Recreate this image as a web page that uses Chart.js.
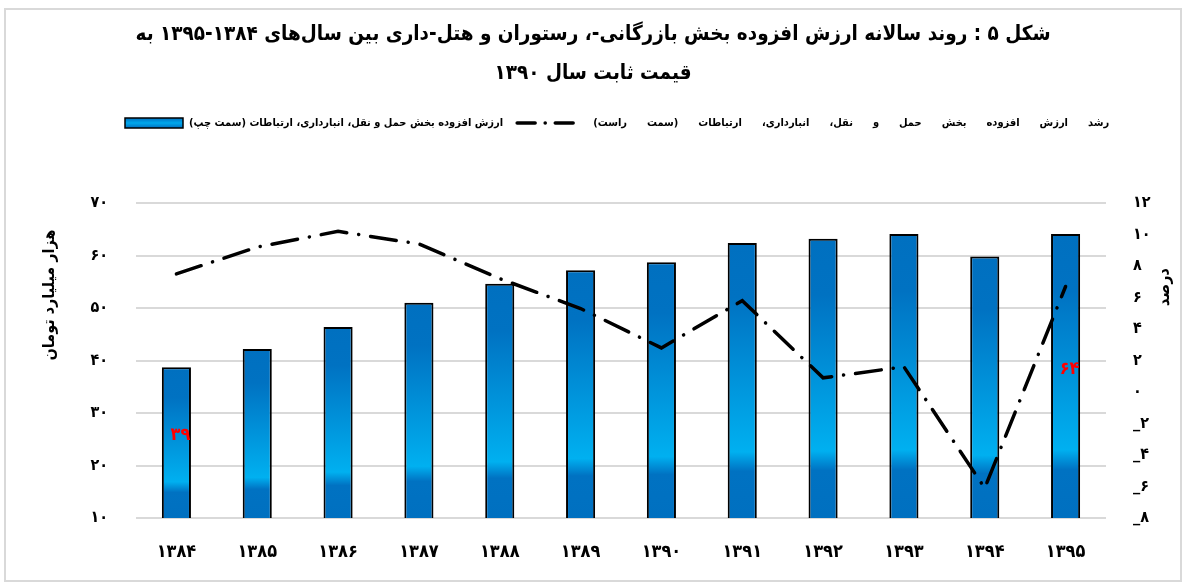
<!DOCTYPE html>
<html lang="fa" dir="ltr">
<head>
<meta charset="utf-8">
<script src="https://cdn.jsdelivr.net/npm/chart.js@4.4.1/dist/chart.umd.min.js"></script>
<style>
  html, body { margin: 0; padding: 0; background: #fff; }
</style>
</head>
<body>
<canvas id="vaChart" width="1186" height="586"></canvas>
<script>
// years (x axis), value added in thousand billion toman (left), growth % (right)
const years = ['۱۳۸۴', '۱۳۸۵', '۱۳۸۶', '۱۳۸۷', '۱۳۸۸', '۱۳۸۹', '۱۳۹۰', '۱۳۹۱', '۱۳۹۲', '۱۳۹۳', '۱۳۹۴', '۱۳۹۵'];
const valueAdded = [38.7, 42.2, 46.4, 51.0, 54.6, 57.2, 58.7, 62.4, 63.2, 64.1, 59.8, 64.1];
const growth = [7.5, 9.2, 10.2, 9.4, 7.2, 5.3, 2.8, 5.8, 0.9, 1.6, -6.1, 6.7];
const labelledBars = [0, 11];

const titleLines = [
    'شکل ۵ : روند سالانه ارزش افزوده بخش بازرگانی-، رستوران و هتل-داری بین سال‌های ۱۳۸۴-۱۳۹۵ به',
    'قیمت ثابت سال ۱۳۹۰'
];
const barLabel = 'ارزش افزوده بخش حمل و نقل، انبارداری، ارتباطات (سمت چپ)';
const lineLabel = 'رشد ارزش افزوده بخش حمل و نقل، انبارداری، ارتباطات (سمت راست)';
const leftTitle = 'هزار میلیارد تومان';
const rightTitle = 'درصد';

const FONT = '"DejaVu Sans Condensed", "DejaVu Sans", sans-serif';

function toFa(n) {
    return String(n).replace(/\d/g, d => '۰۱۲۳۴۵۶۷۸۹'[d]);
}

// right-to-left text with a chosen gap between words (the growth legend is spaced out)
function rtlWidth(ctx, text, gap) {
    const words = text.split(' ');
    return words.reduce((s, w) => s + ctx.measureText(w).width, 0) + gap * (words.length - 1);
}

function drawRtl(ctx, text, xRight, y, gap) {
    ctx.direction = 'rtl';
    ctx.textAlign = 'right';
    text.split(' ').forEach(w => {
        ctx.fillText(w, xRight, y);
        xRight -= ctx.measureText(w).width + gap;
    });
}

function barFill(c) {
    const chart = c.chart;
    const y = chart.scales.y;
    if (!y || c.raw == null) return '#0070C0';
    const top = y.getPixelForValue(c.raw);
    const base = y.getPixelForValue(y.min);
    if (!isFinite(top) || !isFinite(base) || base <= top) return '#0070C0';
    const g = chart.ctx.createLinearGradient(0, top, 0, base);
    g.addColorStop(0, '#0070C0');
    g.addColorStop(0.2, '#0072C2');
    g.addColorStop(0.76, '#00B0F0');
    g.addColorStop(0.83, '#0072C2');
    g.addColorStop(1, '#0070C0');
    return g;
}

const extras = {
    id: 'extras',
    beforeDraw(chart) {
        const ctx = chart.ctx;
        ctx.save();
        ctx.strokeStyle = '#d9d9d9';
        ctx.lineWidth = 2;
        ctx.strokeRect(5, 9, chart.width - 10, chart.height - 14);

        // title
        ctx.fillStyle = '#000';
        ctx.textBaseline = 'middle';
        ctx.direction = 'rtl';
        ctx.textAlign = 'center';
        ctx.font = 'bold 20.5px ' + FONT;
        titleLines.forEach((line, i) => ctx.fillText(line, chart.width / 2, 35 + i * 39));

        // legend: bar item first on the left, then the growth line item
        ctx.font = 'bold 11px ' + FONT;
        const ly = 123;
        const sw = 58;
        let x = 125;
        const g = ctx.createLinearGradient(0, ly - 5, 0, ly + 5);
        g.addColorStop(0, '#0070C0');
        g.addColorStop(0.5, '#00A8EC');
        g.addColorStop(1, '#0070C0');
        ctx.fillStyle = g;
        ctx.fillRect(x, ly - 5, sw, 10);
        ctx.strokeStyle = '#000';
        ctx.lineWidth = 1.5;
        ctx.strokeRect(x, ly - 5, sw, 10);
        x += sw + 6;
        ctx.fillStyle = '#000';
        const sp = ctx.measureText(' ').width;
        const w1 = rtlWidth(ctx, barLabel, sp);
        drawRtl(ctx, barLabel, x + w1, ly, sp);
        x += w1 + 13;
        ctx.beginPath();
        ctx.setLineDash([18, 10, 0.1, 10]);
        ctx.lineCap = 'round';
        ctx.lineWidth = 3.5;
        ctx.moveTo(x + 1, ly);
        ctx.lineTo(x + sw - 1, ly);
        ctx.stroke();
        ctx.setLineDash([]);
        x += sw + 19;
        const w2 = rtlWidth(ctx, lineLabel, 20);
        drawRtl(ctx, lineLabel, x + w2, ly, 20);
        ctx.restore();
    },
    afterDatasetsDraw(chart) {
        const ctx = chart.ctx;
        const meta = chart.getDatasetMeta(0);
        const base = chart.scales.y.getPixelForValue(chart.scales.y.min);
        ctx.save();
        ctx.fillStyle = '#FF0000';
        ctx.font = 'bold 18px ' + FONT;
        ctx.textAlign = 'center';
        ctx.textBaseline = 'middle';
        ctx.letterSpacing = '8px';
        labelledBars.forEach(i => {
            const bar = meta.data[i];
            const mid = (bar.y + base) / 2 - 7;
            ctx.fillText(toFa(Math.round(valueAdded[i])), bar.x + 4, mid);
        });
        ctx.restore();
    },
    afterDraw(chart) {
        const ctx = chart.ctx;
        const area = chart.chartArea;
        const titles = [[leftTitle, area.left - 86, area.top + 92], [rightTitle, area.right + 59, area.top + 84]];
        titles.forEach(([text, x, y]) => {
            ctx.save();
            ctx.fillStyle = '#000';
            ctx.font = 'bold 16px ' + FONT;
            ctx.direction = 'rtl';
            ctx.textAlign = 'center';
            ctx.textBaseline = 'middle';
            ctx.translate(x, y);
            ctx.rotate(-Math.PI / 2);
            ctx.fillText(text, 0, 0);
            ctx.restore();
        });
    }
};

const ctx = document.getElementById('vaChart').getContext('2d');
const vaChart = new Chart(ctx, {
    data: {
        labels: years,
        datasets: [{
            type: 'bar',
            label: barLabel,
            data: valueAdded,
            yAxisID: 'y',
            backgroundColor: barFill,
            borderColor: '#000000',
            borderWidth: 2,
            borderSkipped: false,
            barPercentage: 0.36,
            categoryPercentage: 1,
            order: 2
        }, {
            type: 'line',
            label: lineLabel,
            data: growth,
            yAxisID: 'y1',
            borderColor: '#000000',
            borderWidth: 3.5,
            borderDash: [26, 12, 0.1, 12],
            borderCapStyle: 'round',
            pointRadius: 0,
            tension: 0,
            fill: false,
            order: 1
        }]
    },
    plugins: [extras],
    options: {
        responsive: false,
        animation: false,
        events: [],
        layout: { padding: { top: 203, left: 0, right: 0, bottom: 0 } },
        plugins: {
            title: { display: false },
            legend: { display: false },
            tooltip: { enabled: false }
        },
        scales: {
            x: {
                offset: true,
                grid: { display: false },
                border: { display: false },
                ticks: {
                    color: '#000',
                    padding: 16,
                    font: { family: FONT, size: 18, weight: 'bold' }
                },
                afterFit: s => { s.height = 68; }
            },
            y: {
                position: 'left',
                min: 10,
                max: 70,
                ticks: {
                    stepSize: 10,
                    color: '#000',
                    padding: 28,
                    font: { family: FONT, size: 16, weight: 'bold' },
                    callback: v => toFa(v)
                },
                grid: { color: '#d9d9d9', lineWidth: 2, drawTicks: false },
                border: { display: false },
                afterFit: s => { s.width = 136; }
            },
            y1: {
                position: 'right',
                min: -8,
                max: 12,
                ticks: {
                    stepSize: 2,
                    color: '#000',
                    padding: 27,
                    font: { family: FONT, size: 16, weight: 'bold' },
                    callback: v => (v < 0 ? '_' + toFa(-v) : toFa(v))
                },
                grid: { drawOnChartArea: false, drawTicks: false },
                border: { display: false },
                afterFit: s => { s.width = 80; }
            }
        }
    }
});
</script>
</body>
</html>
